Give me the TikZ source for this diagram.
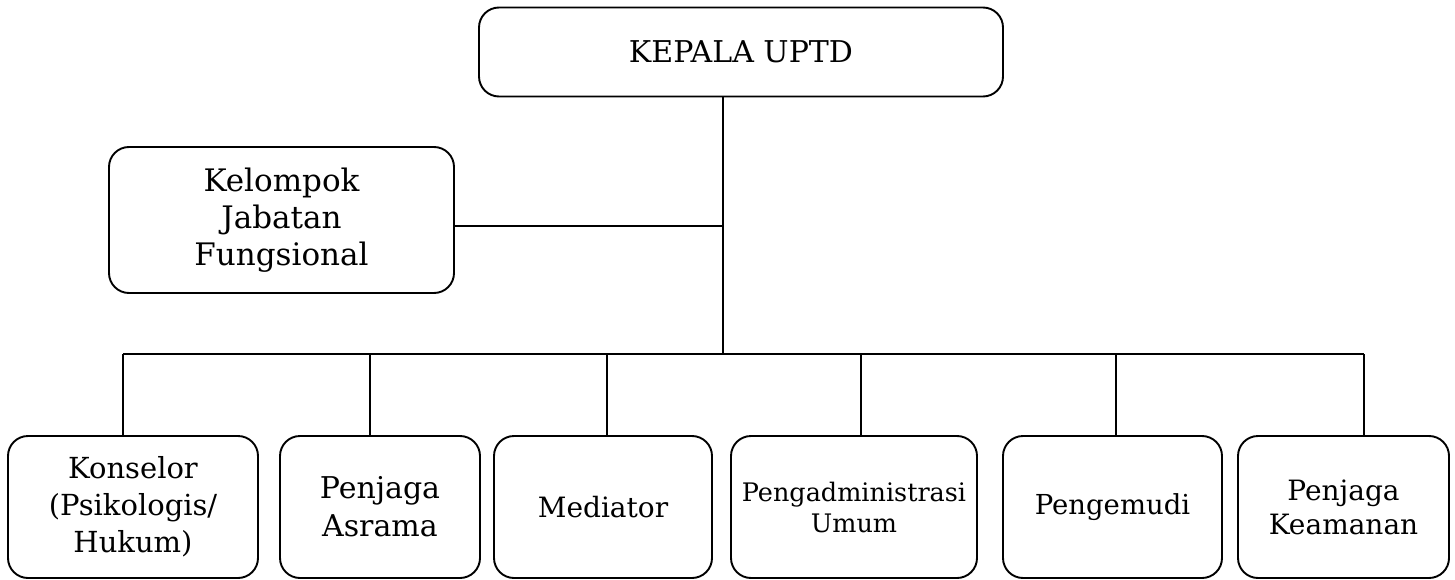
\documentclass[tikz,border=0pt]{standalone}
\usepackage{fontspec}
\setmainfont{DejaVu Serif}
\begin{document}
\begin{tikzpicture}[x=1pt,y=-1pt,
  box/.style={draw, line width=1.9pt, rounded corners=20pt, align=center, inner sep=0pt},
  conn/.style={line width=1.9pt}]
\useasboundingbox (0,0) rectangle (1455,580);
\node[box, minimum width=524pt, minimum height=89pt, font=\fontsize{30}{36}\selectfont] (top) at (741,52) {KEPALA UPTD};
\node[box, minimum width=345pt, minimum height=146pt, font=\fontsize{31}{37}\selectfont] (kjf) at (281.5,220) {Kelompok\\Jabatan\\Fungsional};
\node[box, minimum width=250pt, minimum height=142pt, font=\fontsize{29}{37}\selectfont] (b1) at (133,507) {Konselor\\(Psikologis/\\Hukum)};
\node[box, minimum width=200pt, minimum height=142pt, font=\fontsize{30}{38}\selectfont] (b2) at (380,507) {Penjaga\\Asrama};
\node[box, minimum width=218pt, minimum height=142pt, font=\fontsize{28}{34}\selectfont] (b3) at (603,507) {Mediator};
\node[box, minimum width=246pt, minimum height=142pt, font=\fontsize{25.5}{31}\selectfont] (b4) at (854,507) {Pengadministrasi\\Umum};
\node[box, minimum width=219pt, minimum height=142pt, font=\fontsize{27.5}{34}\selectfont] (b5) at (1112.5,507) {Pengemudi};
\node[box, minimum width=211pt, minimum height=142pt, font=\fontsize{28}{34}\selectfont] (b6) at (1343.5,507) {Penjaga\\Keamanan};
\coordinate (bus) at (723,354);
\coordinate (kj) at (723,226);
\coordinate (d1) at (123,354);
\coordinate (d2) at (370,354);
\coordinate (d3) at (607,354);
\coordinate (d4) at (861,354);
\coordinate (d5) at (1116,354);
\coordinate (d6) at (1364,354);
\draw[conn] (top.south -| bus) -- (bus);
\draw[conn] (kj) -- (kj -| kjf.east);
\draw[conn] (d1) -- (d6);
\draw[conn] (d1) -- (d1 |- b1.north);
\draw[conn] (d2) -- (d2 |- b2.north);
\draw[conn] (d3) -- (d3 |- b3.north);
\draw[conn] (d4) -- (d4 |- b4.north);
\draw[conn] (d5) -- (d5 |- b5.north);
\draw[conn] (d6) -- (d6 |- b6.north);
\end{tikzpicture}
\end{document}
